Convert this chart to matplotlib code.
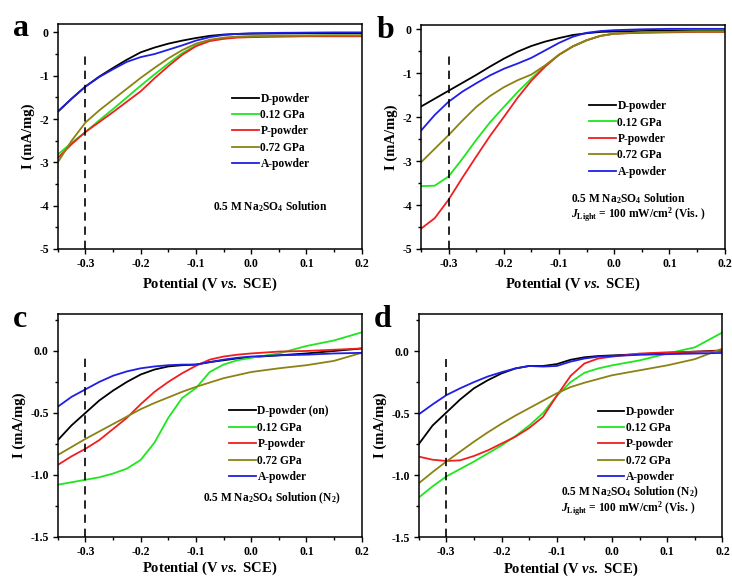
import matplotlib
matplotlib.use('Agg')
import matplotlib.pyplot as plt
from matplotlib.ticker import MultipleLocator, FormatStrFormatter

plt.rcParams['font.family'] = 'Liberation Serif'
plt.rcParams['font.weight'] = 'bold'
plt.rcParams['mathtext.fontset'] = 'custom'
plt.rcParams['mathtext.rm'] = 'Liberation Serif:bold'
plt.rcParams['mathtext.it'] = 'Liberation Serif:italic:bold'
plt.rcParams['mathtext.bf'] = 'Liberation Serif:bold'

# potential grid (V vs. SCE) shared by all sweeps
potential = [-0.35, -0.325, -0.3, -0.275, -0.25, -0.225, -0.2, -0.175, -0.15, -0.125,
             -0.1, -0.075, -0.05, -0.025, 0.0, 0.05, 0.1, 0.15, 0.2]

samples = ['D-powder', '0.12 GPa', 'P-powder', '0.72 GPa', 'A-powder']
colors = ['#000000', '#1ee61e', '#f01e1e', '#8c8214', '#1e1ee6']

# (a) Na2SO4, dark
a_d = [-1.83, -1.53, -1.25, -1.02, -0.82, -0.63, -0.46, -0.35, -0.26, -0.19, -0.13, -0.08, -0.05, -0.035, -0.03, -0.025, -0.02, -0.02, -0.02]
a_012 = [-2.82, -2.55, -2.3, -2.03, -1.77, -1.5, -1.23, -0.97, -0.72, -0.48, -0.3, -0.19, -0.13, -0.1, -0.09, -0.08, -0.075, -0.07, -0.07]
a_p = [-2.9, -2.58, -2.3, -2.07, -1.84, -1.6, -1.36, -1.06, -0.78, -0.52, -0.32, -0.2, -0.15, -0.12, -0.11, -0.1, -0.09, -0.09, -0.09]
a_072 = [-3.0, -2.5, -2.08, -1.8, -1.55, -1.3, -1.05, -0.82, -0.6, -0.41, -0.26, -0.17, -0.12, -0.1, -0.09, -0.08, -0.075, -0.07, -0.07]
a_a = [-1.83, -1.53, -1.25, -1.03, -0.85, -0.68, -0.57, -0.5, -0.4, -0.3, -0.19, -0.11, -0.06, -0.035, -0.02, -0.01, -0.005, 0.0, 0.0]

# (b) Na2SO4, visible light
b_d = [-1.76, -1.58, -1.4, -1.22, -1.04, -0.85, -0.67, -0.51, -0.38, -0.28, -0.2, -0.13, -0.09, -0.06, -0.05, -0.04, -0.03, -0.03, -0.03]
b_012 = [-3.57, -3.56, -3.35, -2.95, -2.52, -2.12, -1.77, -1.43, -1.12, -0.83, -0.58, -0.39, -0.25, -0.15, -0.1, -0.07, -0.06, -0.05, -0.05]
b_p = [-4.54, -4.3, -3.88, -3.38, -2.9, -2.43, -2.0, -1.56, -1.17, -0.85, -0.58, -0.39, -0.25, -0.15, -0.1, -0.08, -0.07, -0.06, -0.06]
b_072 = [-3.03, -2.72, -2.41, -2.08, -1.77, -1.52, -1.32, -1.16, -1.03, -0.82, -0.58, -0.39, -0.25, -0.15, -0.1, -0.07, -0.06, -0.05, -0.05]
b_a = [-2.31, -1.95, -1.65, -1.42, -1.23, -1.05, -0.9, -0.78, -0.65, -0.48, -0.31, -0.17, -0.08, -0.04, -0.02, 0.0, 0.01, 0.01, 0.01]

# (c) Na2SO4 under N2, dark
c_d = [-0.72, -0.6, -0.5, -0.4, -0.32, -0.25, -0.19, -0.15, -0.125, -0.115, -0.11, -0.09, -0.075, -0.06, -0.05, -0.035, -0.02, 0.0, 0.02]
c_012 = [-1.08, -1.06, -1.04, -1.02, -0.99, -0.95, -0.88, -0.74, -0.54, -0.38, -0.3, -0.17, -0.11, -0.075, -0.055, -0.02, 0.04, 0.085, 0.15]
c_p = [-0.92, -0.85, -0.79, -0.72, -0.63, -0.54, -0.43, -0.33, -0.25, -0.18, -0.12, -0.07, -0.045, -0.03, -0.02, -0.005, 0.0, 0.01, 0.02]
c_072 = [-0.84, -0.775, -0.71, -0.65, -0.59, -0.53, -0.47, -0.42, -0.375, -0.33, -0.29, -0.255, -0.22, -0.195, -0.17, -0.14, -0.115, -0.08, -0.015]
c_a = [-0.45, -0.37, -0.31, -0.25, -0.2, -0.165, -0.14, -0.125, -0.115, -0.11, -0.11, -0.09, -0.07, -0.055, -0.045, -0.035, -0.03, -0.02, -0.015]

# (d) Na2SO4 under N2, visible light
d_d = [-0.75, -0.6, -0.495, -0.39, -0.3, -0.235, -0.18, -0.14, -0.12, -0.12, -0.105, -0.07, -0.05, -0.04, -0.035, -0.025, -0.015, -0.005, 0.005]
d_012 = [-1.18, -1.09, -1.01, -0.95, -0.89, -0.825, -0.76, -0.685, -0.6, -0.5, -0.36, -0.25, -0.175, -0.14, -0.115, -0.075, -0.02, 0.03, 0.15]
d_p = [-0.85, -0.875, -0.885, -0.88, -0.845, -0.8, -0.745, -0.69, -0.62, -0.53, -0.36, -0.2, -0.1, -0.06, -0.045, -0.02, -0.01, -0.005, 0.0]
d_072 = [-1.065, -0.975, -0.89, -0.81, -0.73, -0.655, -0.585, -0.52, -0.46, -0.4, -0.34, -0.29, -0.255, -0.225, -0.195, -0.155, -0.115, -0.065, 0.02]
d_a = [-0.51, -0.43, -0.355, -0.3, -0.25, -0.205, -0.17, -0.14, -0.12, -0.125, -0.12, -0.085, -0.06, -0.045, -0.04, -0.03, -0.025, -0.02, -0.015]

sol = r'0.5 M Na$_2$SO$_4$ Solution'
light = r'$J_{\rm Light}$ = 100 mW/cm$^2$ (Vis. )'

panels = [
    dict(letter='a', pos=[0.079, 0.570, 0.415, 0.389], curves=[a_d, a_012, a_p, a_072, a_a],
         ylim=(-5, 0.2), major=1, minor=0.5, fmt='%d', dash=(-5, -0.45), xpad=4,
         names=samples, leg=(0.555, 0.72), notes=[(0.51, 0.187, sol)]),
    dict(letter='b', pos=[0.575, 0.570, 0.415, 0.387], curves=[b_d, b_012, b_p, b_072, b_a],
         ylim=(-5, 0.1), major=1, minor=0.5, fmt='%d', dash=(-5, -0.5), xpad=4,
         names=samples, leg=(0.535, 0.69), notes=[(0.495, 0.225, sol), (0.495, 0.152, light)]),
    dict(letter='c', pos=[0.079, 0.073, 0.415, 0.385], curves=[c_d, c_012, c_p, c_072, c_a],
         ylim=(-1.5, 0.3), major=0.5, minor=0.25, fmt='%.1f', dash=(-1.5, -0.05), xpad=1.5,
         names=['D-powder (on)'] + samples[1:], leg=(0.545, 0.615),
         notes=[(0.477, 0.174, sol + r' (N$_2$)')]),
    dict(letter='d', pos=[0.572, 0.072, 0.415, 0.386], curves=[d_d, d_012, d_p, d_072, d_a],
         ylim=(-1.5, 0.3), major=0.5, minor=0.25, fmt='%.1f', dash=(-1.5, -0.06), xpad=1.5,
         names=samples, leg=(0.57, 0.615),
         notes=[(0.467, 0.2, sol + r' (N$_2$)'), (0.467, 0.129, light)]),
]

fig = plt.figure(figsize=(7.32, 5.79), dpi=100)

for p in panels:
    ax = fig.add_axes(p['pos'])
    for y, c, name in zip(p['curves'], colors, p['names']):
        ax.plot(potential, y, color=c, lw=1.3, label=name)
    ax.plot([-0.3, -0.3], p['dash'], color='k', lw=1.2, ls=(0, (5, 3.5)))
    ax.set_xlim(-0.35, 0.2)
    ax.set_ylim(*p['ylim'])
    ax.xaxis.set_major_locator(MultipleLocator(0.1))
    ax.xaxis.set_minor_locator(MultipleLocator(0.05))
    ax.xaxis.set_major_formatter(FormatStrFormatter('%.1f'))
    ax.yaxis.set_major_locator(MultipleLocator(p['major']))
    ax.yaxis.set_minor_locator(MultipleLocator(p['minor']))
    ax.yaxis.set_major_formatter(FormatStrFormatter(p['fmt']))
    ax.tick_params(which='both', direction='out', top=False, right=False, labelsize=8.5, width=1.0)
    ax.tick_params(which='major', length=3.5, pad=3)
    ax.tick_params(which='minor', length=2)
    for s in ax.spines.values():
        s.set_linewidth(1.1)
    ax.set_xlabel(r'Potential (V $vs.$ SCE)', fontsize=10.5, fontweight='bold', labelpad=p['xpad'])
    ax.set_ylabel('I (mA/mg)', fontsize=10.5, fontweight='bold', labelpad=3)
    ax.legend(loc='upper left', bbox_to_anchor=p['leg'], frameon=False, fontsize=8.3,
              handlelength=2.3, handletextpad=0.15, labelspacing=0.38, borderpad=0)
    for x, y, t in p['notes']:
        ax.text(x, y, t, transform=ax.transAxes, fontsize=8.3, fontweight='bold', va='center')
    fig.text(p['pos'][0] - 0.061, p['pos'][1] + p['pos'][3] - 0.022, p['letter'],
             fontsize=23, fontweight='bold', va='baseline')

fig.savefig('out.png', dpi=100)
